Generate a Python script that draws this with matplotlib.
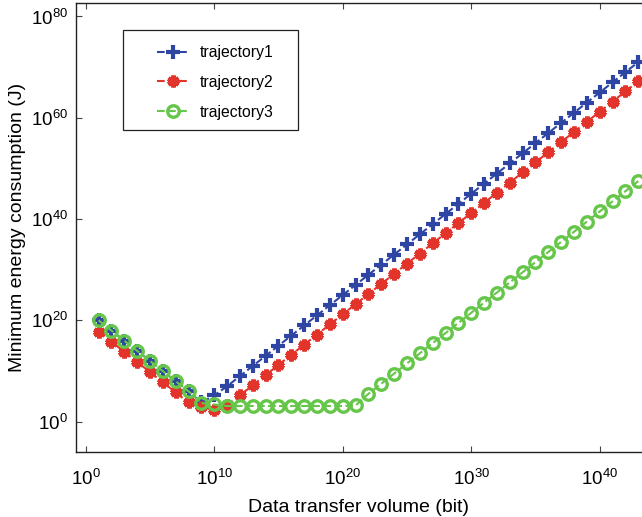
import matplotlib
matplotlib.use("Agg")
import matplotlib.pyplot as plt
from matplotlib.ticker import NullLocator
from matplotlib.patches import Rectangle
import numpy as np

plt.rcParams['font.family'] = ['Liberation Sans', 'DejaVu Sans']
plt.rcParams['mathtext.fontset'] = 'custom'
plt.rcParams['mathtext.rm'] = 'Liberation Sans'
plt.rcParams['mathtext.it'] = 'Liberation Sans:italic'
plt.rcParams['mathtext.bf'] = 'Liberation Sans:bold'

# ---- data (exponents of 10) ----
x_exp = [1, 2, 3, 4, 5, 6, 7, 8, 9, 10, 11, 12, 13, 14, 15, 16, 17, 18, 19, 20,
         21, 22, 23, 24, 25, 26, 27, 28, 29, 30, 31, 32, 33, 34, 35, 36, 37, 38,
         39, 40, 41, 42, 43]
traj1_exp = [20, 18, 16, 14, 12, 10, 8, 6, 3.8, 5.2,
             7, 9, 11, 13, 15, 17, 19, 21, 23, 25,
             27, 29, 31, 33, 35, 37, 39, 41, 43, 45,
             47, 49, 51, 53, 55, 57, 59, 61, 63, 65,
             67, 69, 71]
traj2_exp = [17.8, 15.8, 13.8, 11.8, 9.8, 7.8, 5.8, 3.8, 3.0, 2.3,
             3.2, 5.2, 7.2, 9.2, 11.2, 13.2, 15.2, 17.2, 19.2, 21.2,
             23.2, 25.2, 27.2, 29.2, 31.2, 33.2, 35.2, 37.2, 39.2, 41.2,
             43.2, 45.2, 47.2, 49.2, 51.2, 53.2, 55.2, 57.2, 59.2, 61.2,
             63.2, 65.2, 67.2]
traj3_exp = [20, 18, 16, 14, 12, 10, 8, 6, 3.7, 3.4,
             3.1, 3.1, 3.1, 3.1, 3.1, 3.1, 3.1, 3.1, 3.1, 3.1,
             3.2, 5.5, 7.5, 9.5, 11.5, 13.5, 15.5, 17.5, 19.5, 21.5,
             23.5, 25.5, 27.5, 29.5, 31.5, 33.5, 35.5, 37.5, 39.5, 41.5,
             43.5, 45.5, 47.5]
labels = ['trajectory1', 'trajectory2', 'trajectory3']
xticks_exp = [0, 10, 20, 30, 40]
yticks_exp = [0, 20, 40, 60, 80]

x = np.power(10.0, x_exp)
y1 = np.power(10.0, traj1_exp)
y2 = np.power(10.0, traj2_exp)
y3 = np.power(10.0, traj3_exp)

W, H = 642, 517
fig = plt.figure(figsize=(W / 100, H / 100), dpi=100)
L, R, T, B = 76, 642, 3, 452
ax = fig.add_axes([L / W, 1 - B / H, (R - L) / W, (B - T) / H])

blue = '#2f45a3'
red = '#e2342b'
green = '#66c64a'

h1, = ax.plot(x, y1, linestyle='--', color=blue, linewidth=1.5, marker='+',
              markersize=9.5, markeredgewidth=3.0, label=labels[0])
h2, = ax.plot(x, y2, linestyle='--', color=red, linewidth=1.5, marker=(6, 2, 0),
              markersize=8.5, markeredgewidth=3.3, label=labels[1])
h3, = ax.plot(x, y3, linestyle='--', color=green, linewidth=1.5, marker='o',
              markersize=8.3, markeredgewidth=2.4, markerfacecolor='none',
              label=labels[2])

ax.set_xscale('log')
ax.set_yscale('log')
ax.set_xlim(10 ** (-0.755), 10 ** 43.29)
ax.set_ylim(10 ** (-5.98), 10 ** 82.66)
ax.set_xticks([10.0 ** e for e in xticks_exp])
ax.set_yticks([10.0 ** e for e in yticks_exp])
ax.xaxis.set_minor_locator(NullLocator())
ax.yaxis.set_minor_locator(NullLocator())

ax.spines['right'].set_visible(False)
for s in ['left', 'top', 'bottom']:
    ax.spines[s].set_linewidth(1.0)
    ax.spines[s].set_color('#222222')
ax.tick_params(axis='both', which='major', direction='in', length=4.5, width=0.8,
               color='#444444', labelsize=13.5)
ax.tick_params(axis='x', top=True, pad=12.5)
ax.tick_params(axis='y', right=False, pad=6)

ax.set_xlabel('Data transfer volume (bit)', fontsize=14, labelpad=7)
ax.set_ylabel('Minimum energy consumption (J)', fontsize=14, labelpad=3)

leg = ax.legend(handles=[h1, h2, h3], loc='upper left',
                bbox_to_anchor=((157 - 76) / (R - L), (B - 45) / (B - T)),
                borderaxespad=0, borderpad=0.0, frameon=False, fontsize=11.3,
                handlelength=2.0, handletextpad=0.75, labelspacing=0.95,
                numpoints=1)
fig.add_artist(Rectangle((122.5 / W, 1 - 129.5 / H), (298 - 122.5) / W,
                         (129.5 - 29.7) / H, transform=fig.transFigure,
                         fill=False, edgecolor='#222222', linewidth=0.9))

fig.savefig('out.png', dpi=100)
